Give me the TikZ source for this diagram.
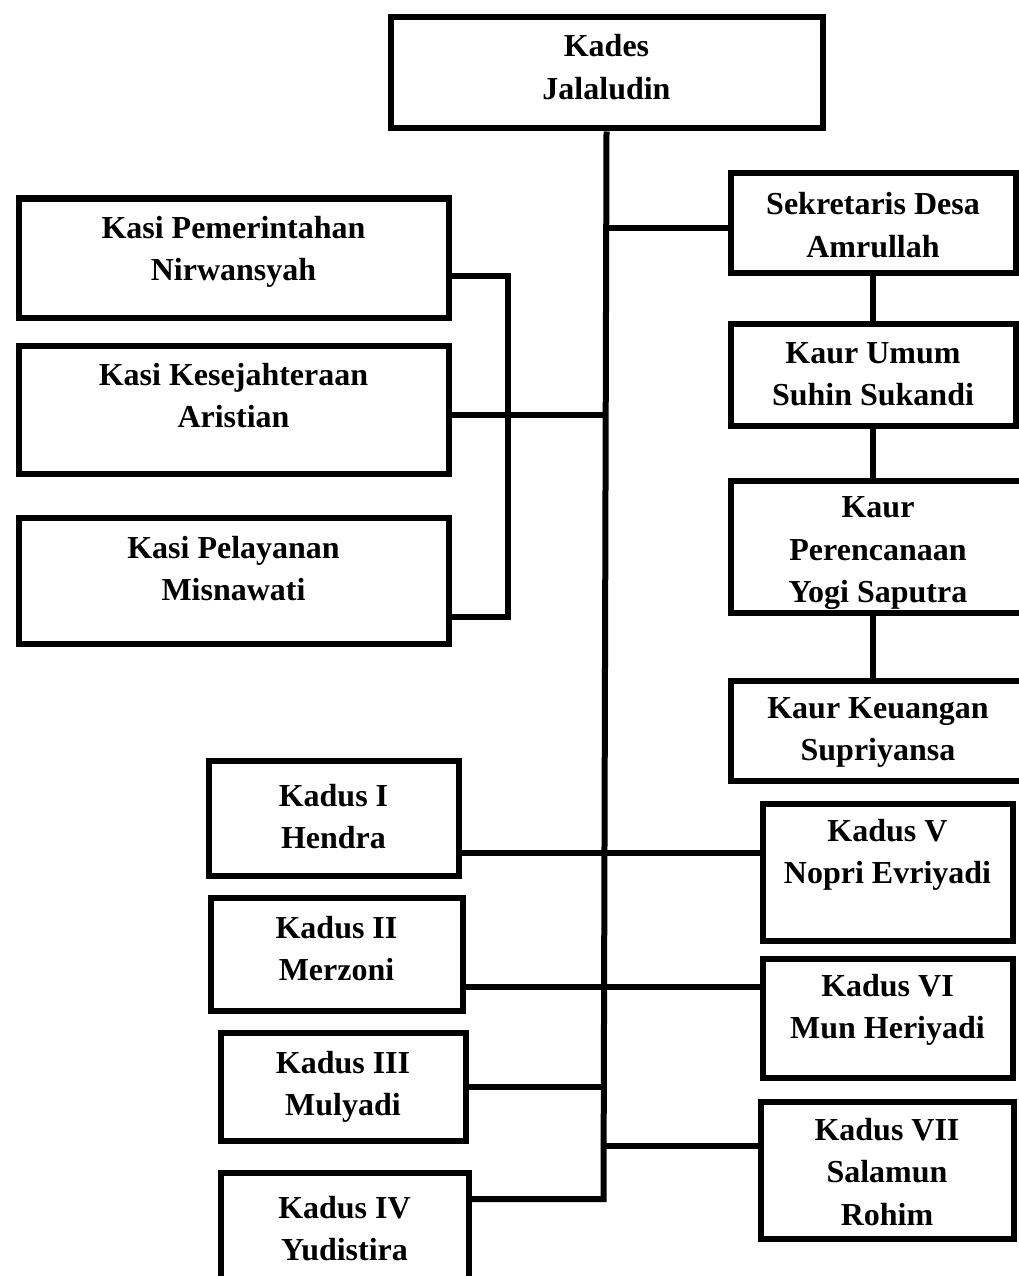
\documentclass[tikz,border=0pt]{standalone}
\usepackage{fontspec}
\setmainfont{Liberation Serif}

\tikzset{
  kotak/.style={draw, line width=6pt, inner sep=0pt, anchor=north west,
    font=\fontsize{32}{42.5}\selectfont\bfseries},
  garis/.style={line width=6pt},
}
% isi kotak: [jarak baris pertama]{lebar}{tinggi}{teks}
\newcommand{\isi}[4][39.5]{\parbox[c][#3pt][t]{#2pt}{\centering\rule{0pt}{#1pt}#4}}

\begin{document}
\begin{tikzpicture}[x=1pt, y=-1pt]
		\useasboundingbox (0,0) rectangle (1019,1276);
		\clip (0,0) rectangle (1019,1276);
		
		% kepala desa dan perangkat
		\node[kotak] (kades) at (387.5,14.5) {\isi{432}{111}{Kades\\Jalaludin}};
		\node[kotak] (sekdes) at (727.5,170.5) {\isi[41]{285}{99}{Sekretaris Desa\\Amrullah}};
		\node[kotak] (kaur1) at (727.5,320.5) {\isi{285}{102}{Kaur Umum\\Suhin Sukandi}};
		\node[kotak] (kaur2) at (727.5,477.5) {\isi[37]{295}{132}{Kaur\\Perencanaan\\Yogi Saputra}};
		\node[kotak] (kaur3) at (727.5,677.5) {\isi[37.5]{295}{100}{Kaur Keuangan\\Supriyansa}};
		
		% kepala seksi
		\node[kotak] (kasi1) at (15.5,195.5) {\isi{430}{119}{Kasi Pemerintahan\\Nirwansyah}};
		\node[kotak] (kasi2) at (15.5,342.5) {\isi{430}{128}{Kasi Kesejahteraan\\Aristian}};
		\node[kotak] (kasi3) at (15.5,514.5) {\isi[40.5]{430}{126}{Kasi Pelayanan\\Misnawati}};
		
		% kepala dusun
		\node[kotak] (kadus1) at (205.5,757.5) {\isi[45.5]{250}{115}{Kadus I\\Hendra}};
		\node[kotak] (kadus2) at (207.5,894.5) {\isi[40.5]{252}{113}{Kadus II\\Merzoni}};
		\node[kotak] (kadus3) at (217.5,1029.5) {\isi[40.5]{245}{108}{Kadus III\\Mulyadi}};
		\node[kotak] (kadus4) at (217.5,1169.5) {\isi[45.5]{248}{150}{Kadus IV\\Yudistira}};
		\node[kotak] (kadus5) at (759.5,800.5) {\isi[37.5]{250}{137}{Kadus V\\Nopri Evriyadi}};
		\node[kotak] (kadus6) at (759.5,955.5) {\isi[37.5]{250}{119}{Kadus VI\\Mun Heriyadi}};
		\node[kotak] (kadus7) at (757.5,1098.5) {\isi[38.5]{253}{137}{Kadus VII\\Salamun\\Rohim}};
		
		% garis komando
		\coordinate (ujung) at (603.5,1199);
		\coordinate (brk) at (508,415);
		\coordinate (j1) at (603.5,853);
		\coordinate (j2) at (603.5,987);
		\coordinate (j3) at (603.5,1146);
		
		\draw[garis] (kades.south) -- (ujung) -- (kadus4.east |- ujung);
		\draw[garis] ([yshift=-5pt]sekdes.west) -- ([yshift=-5pt]sekdes.west -| ujung);
		\draw[garis] (sekdes.south) -- (kaur1.north);
		\draw[garis] (kaur1.south) -- (kaur1.south |- kaur2.north);
		\draw[garis] (kaur1.south |- kaur2.south) -- (kaur1.south |- kaur3.north);
		
		\draw[garis] ([yshift=-18pt]kasi1.east) -| (brk) |- ([yshift=-36pt]kasi3.east);
		\draw[garis] (kasi2.east |- brk) -- (brk -| ujung);
		
		\draw[garis] (kadus1.east |- j1) -- (kadus5.west |- j1);
		\draw[garis] (kadus2.east |- j2) -- (kadus6.west |- j2);
		\draw[garis] (kadus3.east) -- (kadus3.east -| ujung);
		\draw[garis] (j3) -- (kadus7.west |- j3);
\end{tikzpicture}
\end{document}
